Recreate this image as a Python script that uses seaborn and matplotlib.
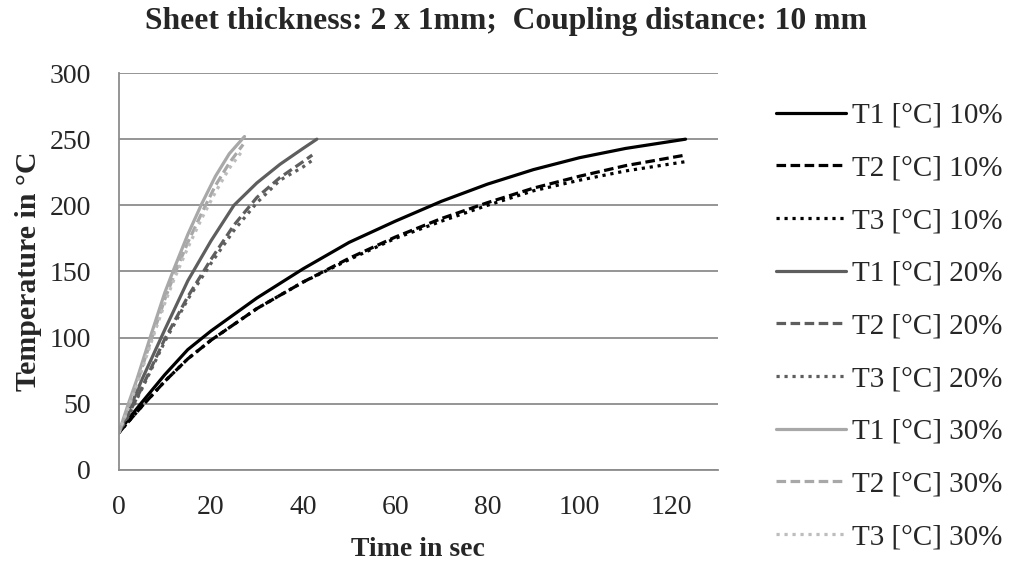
import matplotlib
matplotlib.use("Agg")
import matplotlib.pyplot as plt
import seaborn as sns

# ---- data ----
t_10 = [0, 2, 5, 10, 15, 20, 30, 40, 50, 60, 70, 80, 90, 100, 110, 123]
T1_10 = [28, 38, 51, 72, 91, 105, 130, 152, 172, 188, 203, 216, 227, 236, 243, 250]
T2_10 = [28, 36, 48, 67, 84, 98, 122, 142, 160, 176, 190, 202, 213, 222, 230, 238]
T3_10 = [28, 36, 48, 67, 84, 98, 122, 142, 159, 175, 188, 200, 211, 219, 226, 233]

t_20a = [0, 2, 5, 10, 15, 20, 25, 30, 35, 40, 43]
T1_20 = [28, 43, 68, 106, 143, 173, 200, 217, 231, 243, 250]
t_20b = [0, 2, 5, 10, 15, 20, 25, 30, 35, 40, 42]
T2_20 = [28, 41, 62, 99, 131, 159, 185, 206, 221, 233, 238]
T3_20 = [28, 40, 61, 97, 129, 156, 181, 202, 219, 229, 234]

t_30a = [0, 2, 4, 7, 10, 12, 15, 18, 21, 24, 27.3]
T1_30 = [28, 49, 69, 102, 134, 152, 178, 201, 222, 239, 252]
t_30b = [0, 2, 4, 7, 10, 12, 15, 18, 21, 24, 27]
T2_30 = [28, 47, 66, 98, 129, 147, 172, 194, 215, 232, 246]
T3_30 = [28, 46, 65, 96, 126, 144, 168, 190, 210, 228, 242]

labels = ["T1 [°C] 10%", "T2 [°C] 10%", "T3 [°C] 10%",
          "T1 [°C] 20%", "T2 [°C] 20%", "T3 [°C] 20%",
          "T1 [°C] 30%", "T2 [°C] 30%", "T3 [°C] 30%"]
x_ticks = [0, 20, 40, 60, 80, 100, 120]
y_ticks = [0, 50, 100, 150, 200, 250, 300]

series = [(t_10, T1_10), (t_10, T2_10), (t_10, T3_10),
          (t_20a, T1_20), (t_20b, T2_20), (t_20b, T3_20),
          (t_30a, T1_30), (t_30b, T2_30), (t_30b, T3_30)]
colors = ["#000000"] * 3 + ["#5e5e5e"] * 3 + ["#a8a8a8", "#a8a8a8", "#bdbdbd"]
styles = ["-", (0, (3.0, 1.4)), (0, (1.0, 1.5))] * 3

sns.set_style("white")
plt.rcParams["font.family"] = ["Liberation Serif", "DejaVu Sans"]

fig = plt.figure(figsize=(10.11, 5.69), dpi=100)
ax = fig.add_axes([0.1174, 0.174, 0.5926, 0.6977])

for (tx, ty), c, ls, lab in zip(series, colors, styles, labels):
    sns.lineplot(x=tx, y=ty, ax=ax, color=c, linestyle=ls, linewidth=2.3,
                 label=lab, sort=False)

ax.set_xlim(0, 130)
ax.set_ylim(0, 300)
ax.set_xticks(x_ticks)
ax.set_yticks(y_ticks)
ax.yaxis.grid(True, color="#8c8c8c", linewidth=1.3)
ax.xaxis.grid(False)
ax.set_axisbelow(True)
for s in ["top", "right"]:
    ax.spines[s].set_visible(False)
for s in ["left", "bottom"]:
    ax.spines[s].set_color("#8c8c8c")
    ax.spines[s].set_linewidth(1.3)
ax.tick_params(axis="both", direction="out", color="#8c8c8c", width=1.3,
               labelsize=20)
ax.tick_params(axis="y", length=9, pad=11)
ax.tick_params(axis="x", length=6, pad=12)

ax.set_xlabel("Time in sec", fontsize=20, fontweight="bold", labelpad=12)
ax.set_ylabel("Temperature in °C", fontsize=21.5, fontweight="bold", labelpad=5)
fig.text(0.5, 0.962, "Sheet thickness: 2 x 1mm;  Coupling distance: 10 mm",
         ha="center", va="center", fontsize=22.8, fontweight="bold")

ax.legend(loc="upper left", bbox_to_anchor=(0.768, 0.82),
          bbox_transform=fig.transFigure, frameon=False, fontsize=21,
          handlelength=2.4, handletextpad=0.2, labelspacing=0.9,
          borderpad=0, borderaxespad=0)

fig.savefig("out.png", dpi=100)
